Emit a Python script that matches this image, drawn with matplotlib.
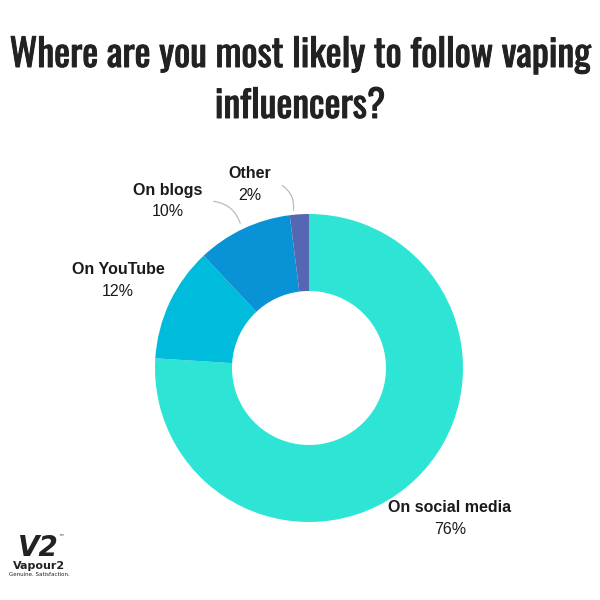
import matplotlib
matplotlib.use("Agg")
import matplotlib.pyplot as plt
from matplotlib.patches import FancyArrowPatch
from matplotlib import font_manager
import matplotlib.patheffects as pe

categories = ["On social media", "On YouTube", "On blogs", "Other"]
values = [76, 12, 10, 2]
colors = ["#2ee5d5", "#00bcdc", "#0993d6", "#5566b2"]
title_lines = ["Where are you most likely to follow vaping", "influencers?"]

names = {f.name for f in font_manager.fontManager.ttflist}
tfont = "DejaVu Sans"
for cand in ["Oswald", "Fjalla One", "Pathway Gothic One", "Roboto Condensed",
             "Archivo Narrow", "PT Sans Narrow"]:
    if cand in names:
        tfont = cand
        break
lfont = "Liberation Sans"

W = H = 600
fig = plt.figure(figsize=(6, 6), dpi=100)
fig.patch.set_facecolor("white")

def fx(px):
    return px / W

def fy(py):
    return 1 - py / H

cx, cy, R = 309, 368, 154
ax = fig.add_axes([fx(cx - R), fy(cy + R), 2 * R / W, 2 * R / H])
ax.pie(values, colors=colors, startangle=90, counterclock=False,
       radius=1.0, wedgeprops=dict(width=0.5, linewidth=0))
ax.set_xlim(-1, 1)
ax.set_ylim(-1, 1)
ax.set_aspect("equal")
ax.axis("off")

thick = [pe.withStroke(linewidth=0.7, foreground="#222222")]
fig.text(0.5, fy(67), title_lines[0], ha="center", va="baseline", fontsize=27.3,
         family=tfont, color="#222222", path_effects=thick)
fig.text(0.5, fy(118), title_lines[1], ha="center", va="baseline", fontsize=27.3,
         family=tfont, color="#222222", path_effects=thick)

label_pos = {
    "On social media": (450, 508, 530),
    "On YouTube": (118, 270, 292),
    "On blogs": (168, 190, 212),
    "Other": (250, 173, 195),
}
for cat, v in zip(categories, values):
    x, y1, y2 = label_pos[cat]
    fig.text(fx(x), fy(y1), cat, ha="center", va="center", fontsize=11.5,
             fontweight="bold", family=lfont, color="#1a1a1a")
    fig.text(fx(x), fy(y2), f"{v}%", ha="center", va="center", fontsize=11.5,
             family=lfont, color="#1a1a1a")

# leader lines
for (x0, y0), (x1, y1) in [((211, 201), (241, 226)), ((280, 184), (293, 213))]:
    arr = FancyArrowPatch((fx(x0), fy(y0)), (fx(x1), fy(y1)),
                          transform=fig.transFigure, arrowstyle="-",
                          connectionstyle="arc3,rad=-0.35", color="#bbbbbb",
                          linewidth=0.9)
    fig.add_artist(arr)

# logo
fig.text(fx(38), fy(548), "V2", ha="center", va="center", fontsize=20,
         fontweight="bold", fontstyle="italic", family="DejaVu Sans",
         color="#222222")
fig.text(fx(61), fy(537), "™", ha="center", va="center", fontsize=4,
         color="#222222")
fig.text(fx(39), fy(566), "Vapour2", ha="center", va="center", fontsize=8,
         fontweight="bold", family="DejaVu Sans", color="#222222")
fig.text(fx(39), fy(575), "Genuine. Satisfaction.", ha="center", va="center",
         fontsize=4, family="DejaVu Sans", color="#222222")

fig.savefig("out.png", dpi=100, facecolor="white")
